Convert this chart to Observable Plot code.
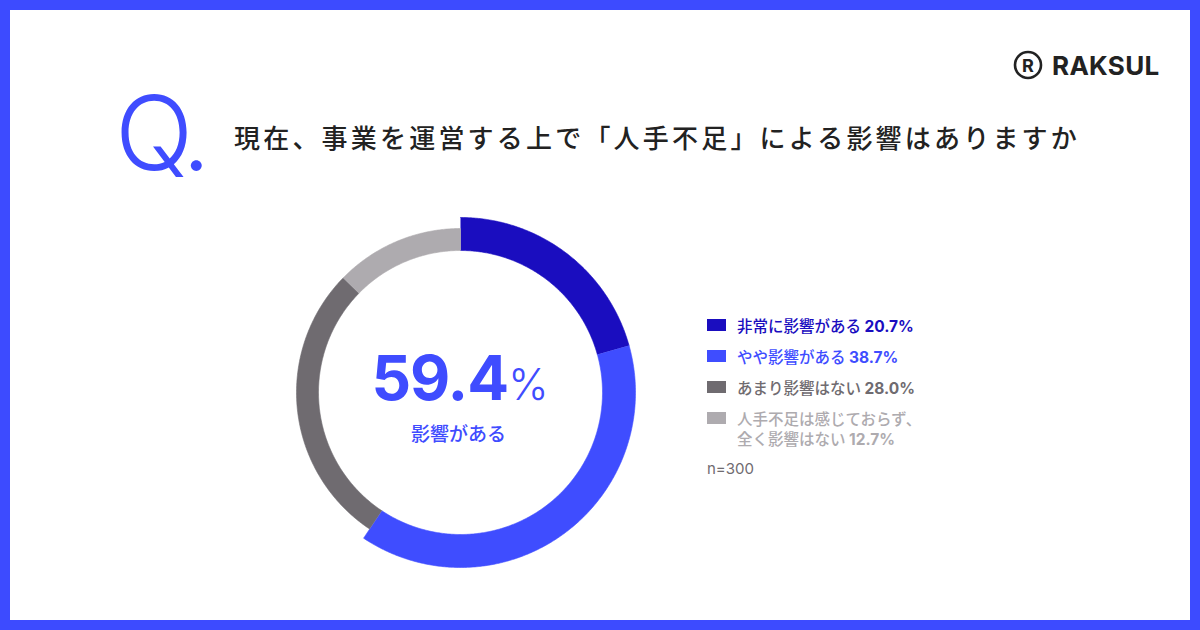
<!DOCTYPE html>
<html lang="ja">
<head>
<meta charset="utf-8">
<script src="https://cdn.jsdelivr.net/npm/d3@7"></script>
<script src="https://cdn.jsdelivr.net/npm/@observablehq/plot@0.6"></script>
<style>
  html, body { margin: 0; padding: 0; }
  body { width: 1200px; height: 630px; overflow: hidden; background: #fff; }
  #frame { position: relative; width: 1200px; height: 630px; box-sizing: border-box; border: 10px solid #3d4bff; background: #fff;
    font-family: "Inter", "Noto Sans CJK JP", sans-serif; }
  .abs { position: absolute; white-space: nowrap; }
  #q { left: 105px; top: 71px; font-size: 103px; font-weight: 300; color: #3f4cff; line-height: 1; letter-spacing: -7px; font-family: "Inter", sans-serif; }
  #title { left: 224px; top: 114px; font-size: 26px; font-weight: 500; color: #222; letter-spacing: 3.2px; line-height: 1; font-family: "Noto Sans CJK JP", sans-serif; }
  #logo { left: 992px; top: 30px; }
  #chart { left: 240px; top: 172px; }
  #center { left: 250px; width: 400px; top: 337px; text-align: center; color: #3f4cff; line-height: 1; }
  #big { font-size: 62px; font-weight: 700; letter-spacing: -1px; font-family: "Inter", sans-serif; }
  #pct { font-size: 43px; font-weight: 300; font-family: "Inter", sans-serif; }
  #sub { margin-top: 14px; font-size: 19px; font-weight: 500; font-family: "Noto Sans CJK JP", sans-serif; margin-left: -3px; }
  #legend { left: 697px; top: 305px; font-size: 15.5px; font-family: "Noto Sans CJK JP", sans-serif; font-weight: 500; }
  .row { display: flex; align-items: flex-start; margin-bottom: 11px; }
  .row .ln { height: 20px; line-height: 20px; }
  .sw { width: 19px; height: 12px; margin-top: 4px; margin-right: 11px; flex: none; }
  .val { font-family: "Inter", sans-serif; font-weight: 700; }
  #n { color: #6f6b70; font-size: 15px; height: 20px; line-height: 20px; font-weight: 400; font-family: "Inter", sans-serif; margin-top: 7px; }
</style>
</head>
<body>
<div id="frame">
  <div id="q" class="abs">Q.</div>
  <div id="title" class="abs">現在、事業を運営する上で「人手不足」による影響はありますか</div>
  <div id="logo" class="abs">
    <svg width="170" height="50" viewBox="0 0 170 50">
      <circle cx="26" cy="25" r="13" fill="none" stroke="#222" stroke-width="2.6"/>
      <text x="26" y="32" text-anchor="middle" font-family="Inter, sans-serif" font-size="18" font-weight="700" fill="#222">R</text>
      <text x="50" y="35" font-family="Inter, sans-serif" font-size="26" font-weight="700" fill="#222" letter-spacing="0.3">RAKSUL</text>
    </svg>
  </div>
  <div id="chart" class="abs"></div>
  <div id="center" class="abs"><span id="big"></span><span id="pct">%</span><div id="sub">影響がある</div></div>
  <div id="legend" class="abs"></div>
</div>
<script>
// ---- data ----
const categories = ["非常に影響がある", "やや影響がある", "あまり影響はない", "人手不足は感じておらず、全く影響はない"];
const legendLabels = [["非常に影響がある"], ["やや影響がある"], ["あまり影響はない"], ["人手不足は感じておらず、", "全く影響はない"]];
const values = [20.7, 38.7, 28.0, 12.7];
const affected = [true, true, false, false];   // 「影響がある」 group
const sampleLabel = "n=300";
const centerLabel = "影響がある";

// ---- styles ----
const colors = ["#1a0dbf", "#3f4dff", "#6f6b70", "#aeabaf"];
const innerR = 142, outerR = {true: 175, false: 164};

// build ring polygons from values
const total = d3.sum(values);
const points = [];
let acc = 0;
categories.forEach((key, i) => {
  const a0 = acc / total * 2 * Math.PI;
  acc += values[i];
  const a1 = acc / total * 2 * Math.PI;
  const ro = outerR[affected[i]];
  const n = Math.max(2, Math.ceil((a1 - a0) / (Math.PI / 360)));
  for (let k = 0; k <= n; k++) { const a = a0 + (a1 - a0) * k / n; points.push({key, x: ro * Math.sin(a), y: ro * Math.cos(a)}); }
  for (let k = n; k >= 0; k--) { const a = a0 + (a1 - a0) * k / n; points.push({key, x: innerR * Math.sin(a), y: innerR * Math.cos(a)}); }
});

const chart = Plot.plot({
  width: 420, height: 420,
  margin: 0,
  x: {domain: [-210, 210], axis: null},
  y: {domain: [-210, 210], axis: null},
  color: {type: "ordinal", domain: categories, range: colors},
  marks: [
    Plot.line(points, {x: "x", y: "y", z: "key", fill: "key", stroke: "key", strokeWidth: 0.6, curve: "linear"})
  ]
});
document.getElementById("chart").appendChild(chart);

// center value
const affectedSum = d3.sum(values.filter((v, i) => affected[i]));
document.getElementById("big").textContent = affectedSum.toFixed(1);
document.getElementById("sub").textContent = centerLabel;

// legend
const legend = document.getElementById("legend");
categories.forEach((key, i) => {
  const row = document.createElement("div");
  row.className = "row";
  row.style.color = colors[i];
  const sw = document.createElement("div");
  sw.className = "sw";
  sw.style.background = colors[i];
  row.appendChild(sw);
  const txt = document.createElement("div");
  const lines = legendLabels[i];
  lines.forEach((ln, j) => {
    const line = document.createElement("div");
    line.className = "ln";
    line.textContent = ln + (j === lines.length - 1 ? " " : "");
    if (j === lines.length - 1) {
      const v = document.createElement("span");
      v.className = "val";
      v.textContent = values[i].toFixed(1) + "%";
      line.appendChild(v);
    }
    txt.appendChild(line);
  });
  row.appendChild(txt);
  legend.appendChild(row);
});
const n = document.createElement("div");
n.id = "n";
n.textContent = sampleLabel;
legend.appendChild(n);
</script>
</body>
</html>
